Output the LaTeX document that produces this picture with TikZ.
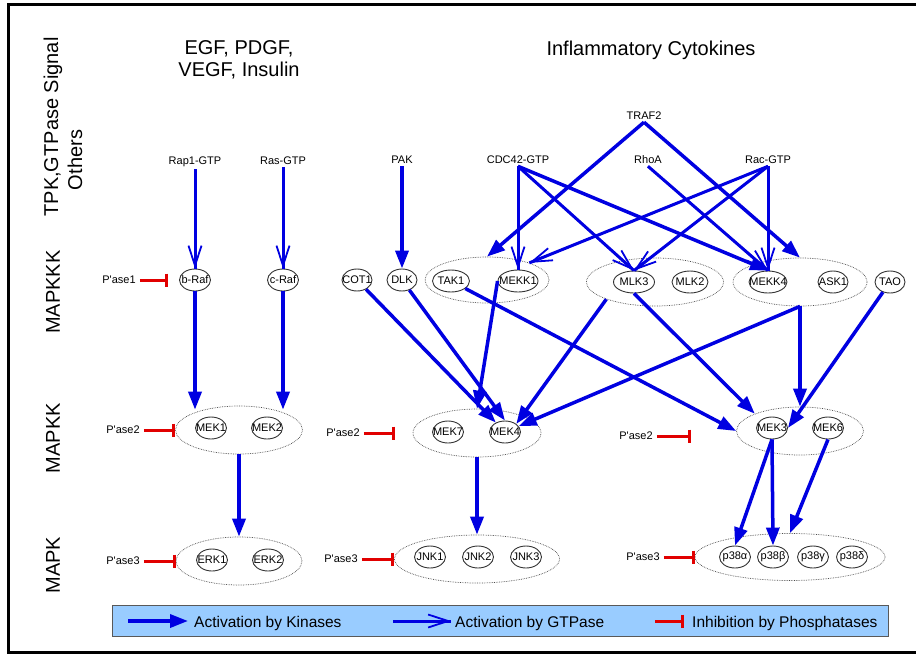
\documentclass[tikz,border=0pt]{standalone}
\usepackage{fontspec}
\setmainfont{Liberation Sans}
\usetikzlibrary{arrows.meta,shapes.geometric,calc}
\definecolor{kblue}{RGB}{0,0,225}
\definecolor{ired}{RGB}{225,0,0}
\definecolor{legfill}{RGB}{153,204,255}
\begin{document}
\begin{tikzpicture}[x=1pt,y=-1pt,
  kin/.style 2 args={ellipse,draw=black!80,line width=0.9pt,inner sep=0pt,minimum width=#1,minimum height=22pt,label={[klab]center:#2}},
  klab/.style={font=\fontsize{11}{13}\selectfont,inner sep=0pt},
  grp/.style 2 args={ellipse,draw=black!70,densely dotted,line width=0.7pt,inner sep=0pt,minimum width=#1,minimum height=#2},
  src/.style={font=\fontsize{11}{13}\selectfont,inner sep=3pt,anchor=base},
  rowlab/.style={font=\fontsize{20}{22}\selectfont,rotate=90},
  ttl/.style={font=\fontsize{20}{22}\selectfont,align=center},
  kinarr/.style={draw=kblue,line width=3.5pt,-{Triangle[length=18pt,width=13pt]}},
  gtparr/.style={preaction={draw=kblue,line width=3pt,arrows=-},draw=kblue,line width=1.8pt,-{Straight Barb[length=20pt,width=13pt]}},
  inh/.style={draw=ired,line width=3pt,-{Bar[width=13pt]}},
  pase/.style={font=\fontsize{11}{13}\selectfont,inner sep=4pt},
  legtxt/.style={font=\fontsize{15.5}{18}\selectfont,anchor=west,inner sep=0pt},
]
\useasboundingbox (0,0) rectangle (916,654);
\fill[white] (0,0) rectangle (916,654);
\draw[line width=3pt] (925,4) -| (8,652) -- (925,652);

% row labels
\node[rowlab] (rT) at (53,127) {TPK,GTPase Signal};
\node[rowlab] (rO) at (75,160) {Others};
\node[rowlab] (rK3) at (53,292) {MAPKKK};
\node[rowlab] (rK2) at (53,438) {MAPKK};
\node[rowlab] (rK1) at (53,565) {MAPK};

% titles
\node[ttl] (t1) at (239,60) {EGF, PDGF,\\VEGF, Insulin};
\node[ttl] (t2) at (651,50) {Inflammatory Cytokines};

% sources
\node[src] (rap1) at (195,164) {Rap1-GTP};
\node[src] (ras) at (283,164) {Ras-GTP};
\node[src] (pak) at (402,163) {PAK};
\node[src] (cdc42) at (518,163) {CDC42-GTP};
\node[src] (rhoa) at (648,163) {RhoA};
\node[src] (rac) at (768,163) {Rac-GTP};
\node[src] (traf2) at (644,119) {TRAF2};

% MAPKKK
\node[grp={124}{46}] (g1) at (487,280) {};
\node[grp={137}{48}] (g2) at (655,282) {};
\node[grp={134}{48}] (g3) at (800,282) {};
\node[kin={31}{b-Raf}] (braf) at (195,280) {};
\node[kin={31}{c-Raf}] (craf) at (283,280) {};
\node[kin={30}{COT1}] (cot1) at (357,280) {};
\node[kin={30}{DLK}] (dlk) at (402,280) {};
\node[kin={37}{TAK1}] (tak1) at (451,281) {};
\node[kin={40}{MEKK1}] (mekk1) at (518,281) {};
\node[kin={41}{MLK3}] (mlk3) at (634,282) {};
\node[kin={36}{MLK2}] (mlk2) at (690,282) {};
\node[kin={38}{MEKK4}] (mekk4) at (768,282) {};
\node[kin={30}{ASK1}] (ask1) at (833,282) {};
\node[kin={30}{TAO}] (tao) at (890,282) {};

% MAPKK
\node[grp={127}{48}] (gA) at (239,430) {};
\node[grp={128}{48}] (gB) at (477,433) {};
\node[grp={127}{48}] (gC) at (800,431) {};
\node[kin={31}{MEK1}] (mek1) at (211,428) {};
\node[kin={31}{MEK2}] (mek2) at (267,428) {};
\node[kin={31}{MEK7}] (mek7) at (448,432) {};
\node[kin={31}{MEK4}] (mek4) at (505,432) {};
\node[kin={31}{MEK3}] (mek3) at (772,428) {};
\node[kin={31}{MEK6}] (mek6) at (828,428) {};

% MAPK
\node[grp={126}{48}] (gE) at (239,561) {};
\node[grp={165}{48}] (gJ) at (477,559) {};
\node[grp={190}{47}] (gP) at (790,557) {};
\node[kin={31}{ERK1}] (erk1) at (212,560) {};
\node[kin={31}{ERK2}] (erk2) at (268,560) {};
\node[kin={31}{JNK1}] (jnk1) at (430,557) {};
\node[kin={31}{JNK2}] (jnk2) at (478,557) {};
\node[kin={31}{JNK3}] (jnk3) at (526,557) {};
\node[kin={31}{p38α}] (p38a) at (735,557) {};
\node[kin={31}{p38β}] (p38b) at (773,557) {};
\node[kin={31}{p38γ}] (p38g) at (813,557) {};
\node[kin={31}{p38δ}] (p38d) at (852,557) {};

% phosphatases
\node[pase] (p1) at (119,280) {P\textquotesingle ase1};
\node[pase] (p2a) at (123,430) {P\textquotesingle ase2};
\node[pase] (p2b) at (343,433) {P\textquotesingle ase2};
\node[pase] (p2c) at (636,436) {P\textquotesingle ase2};
\node[pase] (p3a) at (123,561) {P\textquotesingle ase3};
\node[pase] (p3b) at (341,559) {P\textquotesingle ase3};
\node[pase] (p3c) at (643,557) {P\textquotesingle ase3};
\coordinate (b2c) at (691,436);

\draw[inh,shorten >=11pt] (p1) -- (braf.west);
\draw[inh] (p2a) -- (gA.west);
\draw[inh,shorten >=18pt] (p2b) -- (gB.west);
\draw[inh] (p2c) -- (b2c);
\draw[inh] (p3a) -- (gE.west);
\draw[inh] (p3b) -- (gJ.west);
\draw[inh] (p3c) -- (gP.west);

% GTPase activations
\draw[gtparr] (rap1) -- (braf);
\draw[gtparr] (ras) -- (craf);
\draw[gtparr] (cdc42.south) -- (mekk1.north);
\draw[gtparr] (cdc42.south) -- (mlk3.north);
\draw[gtparr] (rac.south) -- (g1);
\draw[gtparr] (rac.south) -- (mlk3.north);
\draw[gtparr] (rac.south) -- (mekk4.north);
\draw[gtparr] (rhoa.south) -- (mekk4.north);

% kinase activations (top)
\draw[kinarr] (pak) -- (dlk);
\draw[kinarr] (traf2.south) -- (g1.north);
\draw[kinarr] (traf2.south) -- (g3.north);
\draw[kinarr] (cdc42.south) -- (mekk4.north);

% MAPKKK -> MAPKK
\draw[kinarr,shorten >=-4pt] (braf) -- (braf |- gA.north);
\draw[kinarr,shorten >=-4pt] (craf) -- (craf |- gA.north);
\draw[kinarr] (cot1) -- (mek4);
\draw[kinarr] (dlk) -- (mek4.north);
\draw[kinarr] (mekk1.west) -- (gB.north);
\draw[kinarr] (tak1) -- (gC.west);
\draw[kinarr] (g2.south west) -- (mek4.north east);
\draw[kinarr] (mlk3.south) -- (gC.north west);
\draw[kinarr] (g3.south) -- (gC.north);
\draw[kinarr] (g3.south) -- (mek4);
\draw[kinarr] (tao) -- (mek3.east);

% MAPKK -> MAPK
\draw[kinarr] (gA.south) -- (gE.north);
\draw[kinarr] (gB.south) -- (gJ.north);
\draw[kinarr] (mek3.south) -- (p38a.north);
\draw[kinarr] (mek3.south) -- (p38b.north);
\draw[kinarr] (mek6.south) -- (gP.north);

% legend
\node[draw=black!65,fill=legfill,line width=1pt,inner sep=0pt,minimum width=776pt,minimum height=31pt] (leg) at (500,620.5) {};
\coordinate (lk1) at (128,621);
\coordinate (lk2) at (188,621);
\coordinate (lg1) at (393,621);
\coordinate (lg2) at (451,621);
\coordinate (li1) at (655,621);
\coordinate (li2) at (684,621);
\draw[kinarr] (lk1) -- (lk2);
\draw[gtparr] (lg1) -- (lg2);
\draw[inh] (li1) -- (li2);
\node[legtxt] (lkt) at (194,623) {Activation by Kinases};
\node[legtxt] (lgt) at (455,623) {Activation by GTPase};
\node[legtxt] (lit) at (692,623) {Inhibition by Phosphatases};
\end{tikzpicture}
\end{document}
